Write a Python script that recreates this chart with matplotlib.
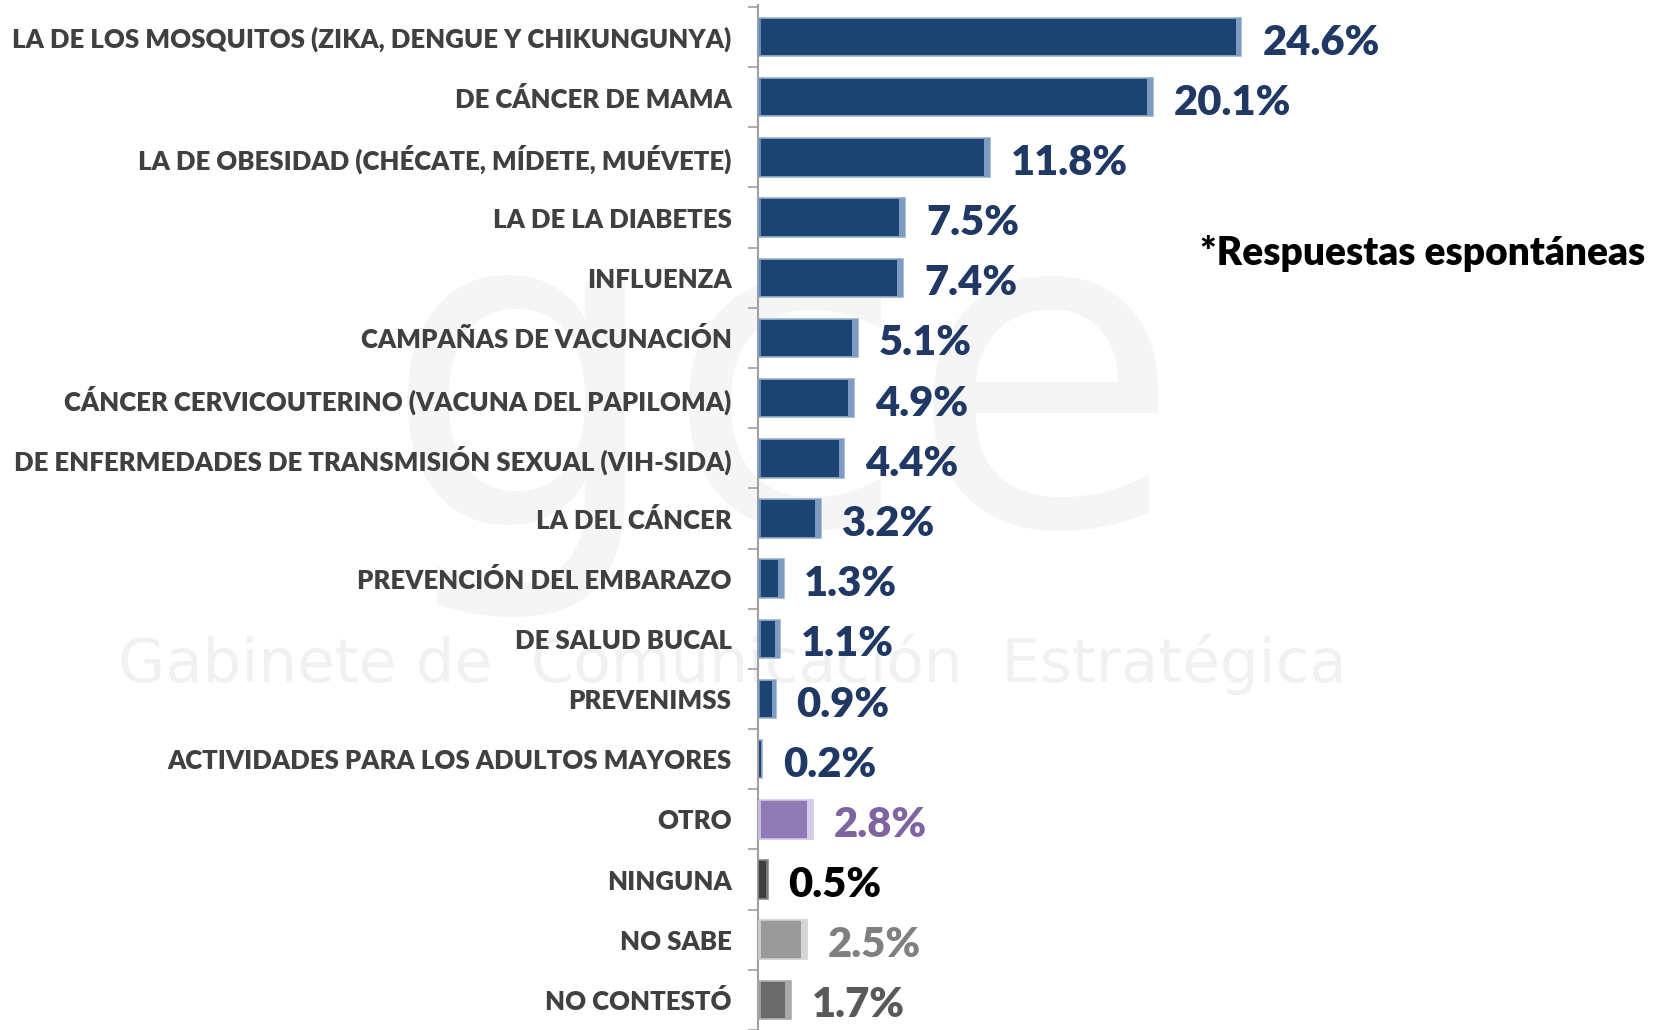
import matplotlib
matplotlib.use("Agg")
import matplotlib.pyplot as plt
import numpy as np

categories = [
    "LA DE LOS MOSQUITOS (ZIKA, DENGUE Y CHIKUNGUNYA)",
    "DE CÁNCER DE MAMA",
    "LA DE OBESIDAD (CHÉCATE, MÍDETE, MUÉVETE)",
    "LA DE LA DIABETES",
    "INFLUENZA",
    "CAMPAÑAS DE VACUNACIÓN",
    "CÁNCER CERVICOUTERINO (VACUNA DEL PAPILOMA)",
    "DE ENFERMEDADES DE TRANSMISIÓN SEXUAL (VIH-SIDA)",
    "LA DEL CÁNCER",
    "PREVENCIÓN DEL EMBARAZO",
    "DE SALUD BUCAL",
    "PREVENIMSS",
    "ACTIVIDADES PARA LOS ADULTOS MAYORES",
    "OTRO",
    "NINGUNA",
    "NO SABE",
    "NO CONTESTÓ",
]
values = [24.6, 20.1, 11.8, 7.5, 7.4, 5.1, 4.9, 4.4, 3.2, 1.3, 1.1, 0.9, 0.2, 2.8, 0.5, 2.5, 1.7]
labels = ["24.6%", "20.1%", "11.8%", "7.5%", "7.4%", "5.1%", "4.9%", "4.4%", "3.2%",
          "1.3%", "1.1%", "0.9%", "0.2%", "2.8%", "0.5%", "2.5%", "1.7%"]

navy = "#1C4472"
bar_colors = [navy] * 13 + ["#8F7AB5", "#3F3F3F", "#9A9A9A", "#6B6B6B"]
edge_colors = ["#9DB3CF"] * 13 + ["#D2C6E6", "#8C8C8C", "#D0D0D0", "#B0B0B0"]
text_colors = ["#1F3864"] * 13 + ["#8064A2", "#000000", "#808080", "#595959"]

fig = plt.figure(figsize=(16.64, 10.30), dpi=100)

# faint watermark in a background axes
bg = fig.add_axes([0, 0, 1, 1], zorder=-5)
bg.set_axis_off()
bg.text(0.47, 0.61, "gce", fontsize=320, color="#F5F5F5", ha="center", va="center",
        family="DejaVu Sans", transform=bg.transAxes)
bg.text(0.44, 0.355, "Gabinete de  Comunicación  Estratégica", fontsize=44, color="#F1F1F1",
        ha="center", va="center", family="DejaVu Sans", transform=bg.transAxes)

ax = fig.add_axes([0.4555, 0.0, 0.5445, 0.995], zorder=1)
ax.patch.set_alpha(0)
y = np.arange(len(categories))
ax.barh(y, values, height=0.64, color=bar_colors, edgecolor=edge_colors, linewidth=1.2, zorder=2)
# bevel strips at bar ends
vals = np.array(values)
strip = np.minimum(0.3, vals * 0.22)
light = ["#7E9BC2"] * 13 + ["#D6CBEA", "#7A7A7A", "#D5D5D5", "#A8A8A8"]
ax.barh(y, strip, left=vals - strip, height=0.64, color=light, linewidth=0, zorder=3)
ax.barh(y, strip * 0.6, left=0, height=0.64, color=light, linewidth=0, zorder=3, alpha=0.8)

for yi, v, lab, c in zip(y, values, labels, text_colors):
    ax.annotate(lab, (v, yi), xytext=(15, -4), textcoords="offset points",
                ha="left", va="center", fontsize=30, fontweight="heavy", color=c,
                family="Lato", zorder=4)

ax.set_xlim(0, 46.1)
ax.set_ylim(16.4, -0.53)
ax.set_yticks(y)
ax.set_yticklabels(categories, fontsize=18.5, fontweight="heavy", color="#404040", family="Lato")
ax.set_yticks(np.arange(-0.5, len(categories), 1.0), minor=True)
ax.tick_params(axis="y", which="major", length=0, pad=19)
ax.tick_params(axis="y", which="minor", length=7, color="#A0A0A0", width=1.2)
ax.set_xticks([])
for s in ["top", "right", "bottom"]:
    ax.spines[s].set_visible(False)
ax.spines["left"].set_color("#A0A0A0")
ax.spines["left"].set_linewidth(1.5)

fig.text(0.989, 0.754, "*Respuestas espontáneas", fontsize=28, fontweight="heavy",
         color="#000000", ha="right", va="center", family="Lato")

fig.savefig("out.png", dpi=100)
